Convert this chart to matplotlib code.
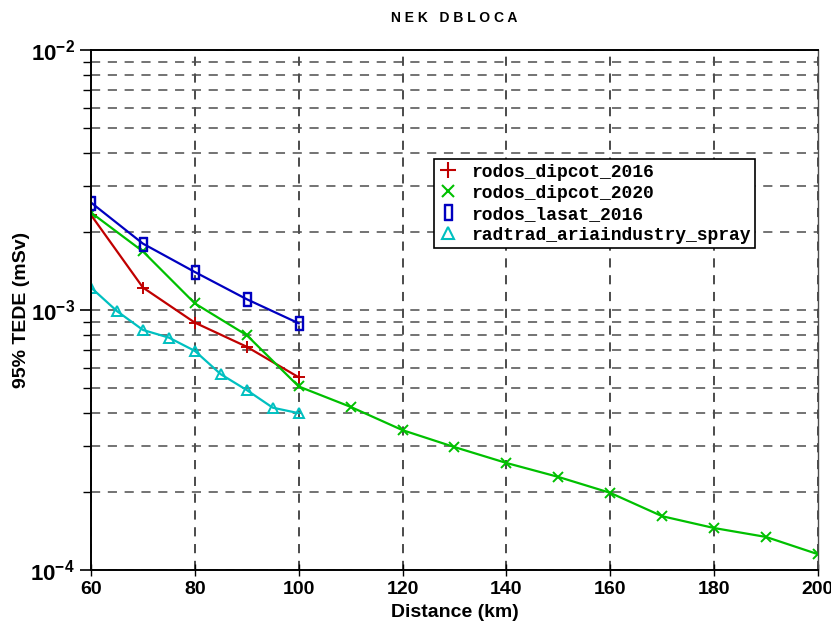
import numpy as np
import matplotlib
matplotlib.use('Agg')
import matplotlib.pyplot as plt
from matplotlib.ticker import LogLocator, FuncFormatter, NullFormatter
from matplotlib.lines import Line2D
from matplotlib import font_manager

# data
dist_dipcot_2016 = [60, 70, 80, 90, 100]
dose_dipcot_2016 = [2.32e-3, 1.22e-3, 8.94e-4, 7.22e-4, 5.51e-4]

dist_dipcot_2020 = [60, 70, 80, 90, 100, 110, 120, 130, 140, 150, 160, 170, 180, 190, 200]
dose_dipcot_2020 = [2.37e-3, 1.68e-3, 1.06e-3, 8.0e-4, 5.08e-4, 4.24e-4, 3.45e-4, 2.97e-4,
                    2.58e-4, 2.28e-4, 1.98e-4, 1.61e-4, 1.45e-4, 1.34e-4, 1.15e-4]

dist_lasat_2016 = [60, 70, 80, 90, 100]
dose_lasat_2016 = [2.59e-3, 1.80e-3, 1.40e-3, 1.10e-3, 8.89e-4]

dist_radtrad = [60, 65, 70, 75, 80, 85, 90, 95, 100]
dose_radtrad = [1.22e-3, 9.9e-4, 8.38e-4, 7.83e-4, 6.96e-4, 5.66e-4, 4.92e-4, 4.21e-4, 4.01e-4]

labels = ['rodos_dipcot_2016', 'rodos_dipcot_2020', 'rodos_lasat_2016', 'radtrad_ariaindustry_spray']

# narrow font if there is one, else plain Liberation Sans
names = {f.name for f in font_manager.fontManager.ttflist}
narrow = 'Liberation Sans Narrow' if 'Liberation Sans Narrow' in names else 'Liberation Sans'

plt.rcParams['font.family'] = narrow
plt.rcParams['mathtext.fontset'] = 'custom'
plt.rcParams['mathtext.rm'] = narrow + ':bold'
plt.rcParams['mathtext.it'] = narrow + ':bold'
plt.rcParams['mathtext.bf'] = narrow + ':bold'

fig = plt.figure(figsize=(8.31, 6.25), dpi=100)
ax = fig.add_axes([91 / 831, 55 / 625, 727 / 831, 520 / 625])

red, green, blue, cyan = '#c00000', '#00c000', '#0000c0', '#00c0c0'
rect = '$\u25AF$'

ax.plot(dist_dipcot_2016, dose_dipcot_2016, color=red, marker='+', ms=9, mew=1.4, lw=1.6)
ax.plot(dist_dipcot_2020, dose_dipcot_2020, color=green, marker='x', ms=7, mew=1.4, lw=1.6)
ax.plot(dist_lasat_2016, dose_lasat_2016, color=blue, lw=1.6)
ax.plot(dist_lasat_2016, dose_lasat_2016, color=blue, marker=rect, ms=10, ls='none')
ax.plot(dist_radtrad, dose_radtrad, color=cyan, marker='^', ms=7, mew=1.4, mfc='none', lw=1.6)

ax.set_yscale('log')
ax.set_xlim(60, 200)
ax.set_ylim(1e-4, 1e-2)
ax.set_xticks(np.arange(60, 201, 20))
ax.yaxis.set_major_locator(LogLocator(base=10))
ax.yaxis.set_minor_locator(LogLocator(base=10, subs=np.arange(2, 10)))
ax.yaxis.set_minor_formatter(NullFormatter())
ax.yaxis.set_major_formatter(FuncFormatter(lambda v, p: r'$10^{%d}$' % round(np.log10(v))))

ax.grid(True, which='both', axis='y', ls=(0, (6, 5)), color='0.3', lw=1.1)
ax.grid(True, which='major', axis='x', ls=(0, (6, 5)), color='0.1', lw=1.1)

ax.tick_params(axis='x', direction='inout', length=8, width=1, labelsize=14, pad=4)
ax.tick_params(axis='y', which='major', direction='out', length=8, width=1.2, labelsize=16)
ax.tick_params(axis='y', which='minor', direction='out', length=6, width=1)
for lab in ax.get_xticklabels():
    lab.set_fontweight('bold')

for side in ['left', 'bottom', 'top']:
    ax.spines[side].set_linewidth(1.4)
ax.spines['right'].set_linewidth(1.0)
ax.spines['right'].set_color('0.3')

ax.set_xlabel('Distance (km)', fontsize=14, fontweight='bold', labelpad=4)
ax.set_ylabel('95% TEDE (mSv)', fontsize=14, fontweight='bold', labelpad=0)
ax.set_title('N E K   D B L O C A', fontsize=10, fontweight='bold',
             family='Liberation Sans', pad=20)

# legend shows markers only
handles = [
    Line2D([], [], color=red, marker='+', ms=11, mew=1.5, ls='none'),
    Line2D([], [], color=green, marker='x', ms=8, mew=1.5, ls='none'),
    Line2D([], [], color=blue, marker=rect, ms=12, ls='none'),
    Line2D([], [], color=cyan, marker='^', ms=8, mew=1.5, mfc='none', ls='none'),
]
leg = ax.legend(handles, labels, loc='upper left', bbox_to_anchor=(0.472, 0.79),
                frameon=True, fancybox=False, edgecolor='k', framealpha=1,
                borderpad=0.25, labelspacing=0.22, handlelength=1.0, handletextpad=0.8,
                borderaxespad=0,
                prop={'family': 'Liberation Mono', 'weight': 'bold', 'size': 13})
leg.get_frame().set_linewidth(1.2)

fig.savefig('out.png', dpi=100)
